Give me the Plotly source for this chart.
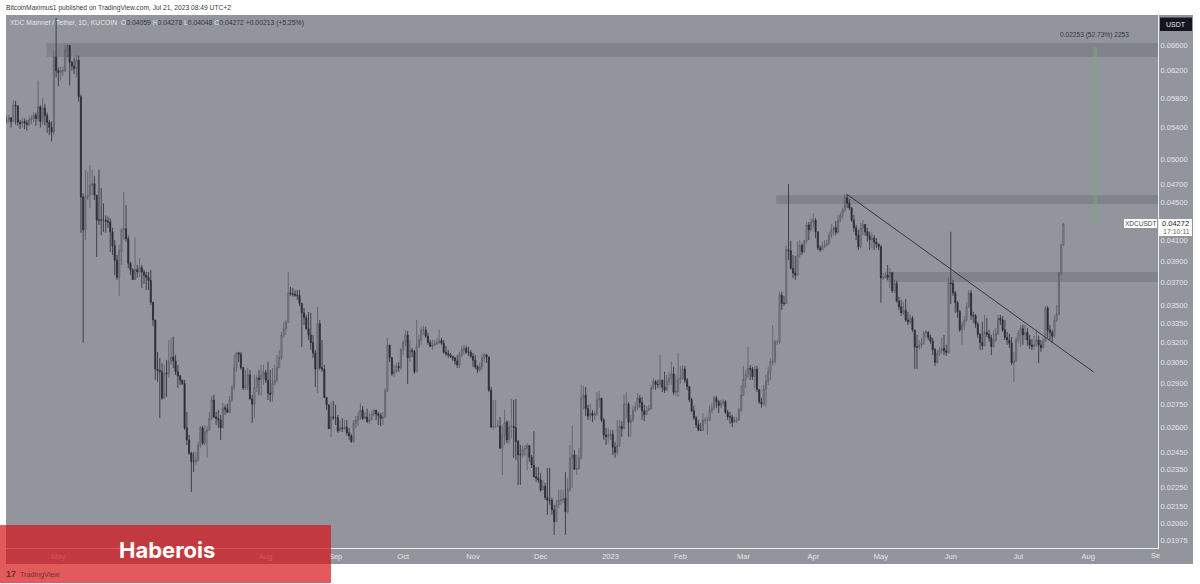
import pandas as pd
import plotly.graph_objects as go

# Daily OHLC, in units of 0.00001 USDT
close_pts = [
5500,5530,5480,5700,5690,5470,5450,5480,5460,5440,5500,5520,5560,5520,5680,5480,5660,5560,5470,5400,5340,
6410,6200,6170,6200,6200,6520,6590,6330,6270,6230,6360,5820,4560,4210,
4560,4580,4690,4710,4580,4310,4310,4310,4310,4300,4290,4190,4050,3910,3750,4000,4210,4220,4120,3880,3820,3730,3820,3800,3840,
3800,3770,3750,3720,3530,3380,3000,2990,2980,2795,2970,2965,3055,3090,3060,2980,2950,2920,2895,2600,
2525,2445,2395,2395,2405,2490,2600,2505,2575,2585,2660,2783,2670,2660,2650,2600,2730,2720,2700,2783,
2870,3010,3120,3110,3010,2865,2880,2958,2790,2755,2870,2935,2925,2955,2975,2920,2830,2820,2900,2920,
3010,3085,3260,3310,3360,3610,3600,3600,3590,3590,3520,3440,3400,3310,3260,3200,3120,3000,3350,3010,
3000,2800,2750,2595,2670,2665,2665,2580,2600,2595,2605,2570,2550,2515,2630,2650,2675,2715,2660,2670,
2640,2650,2690,2715,2690,2680,2660,2670,2845,3180,3085,2965,2985,3020,3010,3145,3200,3260,3085,3140,
3130,2980,3170,3220,3300,3300,3250,3200,3170,3180,3190,3200,3215,3195,3125,3115,3105,3095,3080,3060,
3030,3105,3145,3155,3125,3125,3095,3065,3015,2995,3020,3085,3105,3090,2850,2605,2610,2610,2610,2475,
2550,2635,2525,2605,2610,2600,2515,2435,2435,2465,2475,2490,2420,2375,2310,2300,2290,2235,2255,2195,
2180,2180,2130,2070,2155,2180,2180,2190,2120,2240,2415,2435,2350,2355,2415,2795,2815,2725,2675,2695,
2680,2690,2785,2795,2650,2555,2545,2555,2560,2480,2450,2490,2610,2595,2755,2755,2635,2650,2715,2735,
2795,2765,2710,2685,2715,2725,2865,2910,2890,2890,2920,2870,2850,2910,2935,2965,2835,2840,2925,2935,
3000,2920,2875,2785,2710,2665,2620,2585,2585,2650,2650,2650,2715,2730,2795,2770,2745,2760,2770,2700,
2670,2670,2635,2650,2650,2715,2815,2925,2960,3005,3000,2945,3000,2855,2770,2755,2855,2915,2980,3055,
3055,3205,3205,3590,3520,3520,4010,4000,3835,3790,3770,3960,4055,3990,4100,4260,4210,4290,4310,4190,
4030,4010,4040,4055,4075,4155,4210,4230,4185,4310,4360,4415,4550,4490,4440,4310,4230,4155,4040,4225,
4265,4190,4150,4110,4125,4085,4065,4040,3745,3750,3770,3750,3795,3630,3695,3540,3490,3440,3460,3380,
3365,3395,3300,3165,3165,3180,3195,3275,3280,3240,3210,3145,3050,3115,3140,3155,3135,3125,3700,3695,
3610,3525,3450,3300,3340,3380,3490,3610,3420,3415,3345,3265,3200,3175,3280,3265,3235,3170,3220,3270,
3395,3380,3300,3240,3220,3195,3045,3060,3220,3275,3310,3260,3280,3220,3180,3170,3185,3220,3180,3160,
3210,3480,3300,3280,3250,3380,3430,3790,4059,4272]

high_pts = [
5560,5570,5530,5770,5760,5700,5500,5530,5520,5500,5550,5560,5600,5600,6050,5700,5800,5720,5600,5500,5480,
6500,7050,6250,6260,6260,6600,6620,6600,6350,6400,6440,6430,5850,4600,
4870,4850,4930,4870,4800,4580,4870,4660,4490,4360,4350,4330,4230,4107,3960,4055,4230,4615,4470,4150,3895,3835,4135,3865,3930,
3865,3818,3800,3800,3818,3505,3381,3128,3082,3045,3030,3067,3220,3236,3244,3105,3030,2958,2922,2922,
2703,2556,2452,2452,2452,2513,2612,2612,2618,2612,2703,2810,2817,2703,2716,2683,2763,2750,2757,2810,
2886,3105,3128,3128,3128,3016,2994,3008,2994,2817,2958,2958,2994,3030,3030,2994,3052,2994,3008,3030,
3105,3143,3284,3365,3381,3800,3664,3655,3637,3637,3637,3525,3481,3422,3447,3439,3260,3143,3490,3381,
3220,3030,2803,2750,2770,2776,2750,2683,2650,2663,2650,2650,2600,2562,2650,2676,2703,2763,2743,2703,
2723,2696,2710,2723,2710,2703,2696,2703,2865,3236,3158,3082,3030,3045,3052,3158,3220,3300,3292,3220,
3158,3143,3381,3260,3325,3333,3325,3276,3220,3220,3220,3236,3300,3236,3220,3174,3143,3120,3097,3090,
3105,3128,3174,3182,3174,3166,3143,3120,3105,3030,3052,3113,3120,3113,3067,2872,2783,2783,2650,2670,
2618,2716,2650,2643,2790,2783,2790,2525,2494,2488,2494,2506,2494,2434,2580,2364,2364,2330,2291,2274,
2358,2358,2193,2156,2182,2236,2236,2236,2336,2302,2494,2612,2464,2434,2476,2886,2880,2872,2750,2757,
2716,2710,2837,2844,2783,2663,2600,2600,2587,2587,2513,2650,2650,2643,2817,2837,2770,2683,2743,2770,
2830,2817,2803,2750,2743,2750,2886,2936,2922,2922,3105,2922,2980,2958,2980,3052,3016,2958,3120,3023,
3030,3023,2936,2880,2797,2743,2676,2650,2631,2696,2670,2670,2750,2763,2810,2810,2783,2783,2790,2783,
2716,2703,2683,2670,2670,2730,2886,3023,2994,3166,3030,3016,3023,3023,2851,2797,2886,2958,3016,3082,
3340,3220,3220,3620,3620,3585,4055,4705,4097,3960,3950,4090,4107,4072,4107,4290,4290,4330,4385,4330,
4190,4055,4090,4107,4107,4190,4270,4250,4300,4365,4395,4440,4595,4582,4537,4450,4365,4260,4208,4280,
4311,4270,4230,4190,4180,4155,4125,4072,4055,3790,3800,3865,3835,3800,3727,3718,3577,3550,3533,3558,
3447,3430,3414,3300,3260,3220,3236,3292,3300,3292,3260,3236,3158,3143,3166,3236,3260,3182,3745,4190,
3727,3628,3542,3464,3365,3414,3525,3637,3637,3447,3430,3365,3276,3365,3422,3397,3300,3260,3300,3316,
3422,3422,3414,3381,3284,3268,3244,3128,3244,3300,3340,3340,3340,3316,3260,3228,3252,3300,3252,3220,
3236,3498,3498,3340,3300,3414,3507,3800,4072,4278]

low_pts = [
5450,5460,5400,5470,5440,5420,5380,5400,5380,5360,5420,5440,5470,5420,5480,5400,5430,5430,5330,5300,5220,
5300,6100,5970,6050,6120,6180,6400,5980,6200,6150,6100,5750,4180,3200,
4107,4526,4440,4580,4526,3940,4260,4155,4190,4180,4230,3990,3960,3770,3727,3585,3865,4107,4090,3835,3770,3727,3727,3745,3755,
3655,3690,3637,3637,3505,3330,2922,2908,2663,2783,2795,2803,2936,3030,3008,2958,2865,2886,2886,2587,
2494,2434,2225,2336,2376,2393,2476,2494,2494,2417,2587,2650,2663,2618,2600,2525,2600,2683,2696,2696,
2770,2851,2980,3052,2994,2851,2851,2851,2783,2631,2663,2837,2817,2810,2886,2900,2783,2770,2770,2886,
2908,3008,3067,3236,3260,3365,3585,3577,3577,3550,3498,3166,3340,3300,3220,3143,3082,2872,2830,2994,
2980,2795,2716,2600,2544,2650,2618,2568,2580,2574,2587,2550,2525,2506,2506,2600,2612,2650,2650,2656,
2631,2625,2650,2676,2650,2618,2612,2618,2663,2837,3052,2950,2943,2972,2980,2994,3105,3174,2893,3052,
3090,2965,2980,3158,3182,3260,3236,3182,3166,3143,3174,3182,3190,3182,3113,3097,3082,3082,3060,3030,
3008,3008,3090,3105,3113,3097,3082,3016,3001,2972,2980,2994,3052,3045,2837,2600,2587,2600,2612,2470,
2318,2494,2506,2500,2537,2417,2405,2263,2263,2417,2429,2347,2393,2358,2302,2280,2274,2225,2236,2182,
2104,2156,2104,2004,2068,2140,2156,2166,2004,2109,2225,2247,2347,2318,2347,2405,2716,2676,2650,2650,
2637,2650,2676,2730,2637,2525,2494,2506,2525,2434,2417,2434,2482,2544,2606,2663,2544,2544,2637,2703,
2716,2730,2650,2643,2690,2710,2716,2851,2851,2865,2865,2837,2830,2872,2886,2886,2817,2810,2803,2893,
2922,2900,2851,2770,2703,2650,2600,2580,2580,2580,2625,2556,2643,2696,2716,2730,2696,2730,2743,2690,
2650,2625,2606,2631,2631,2643,2703,2810,2865,2936,2922,2922,2865,2837,2757,2730,2743,2736,2886,2922,
3030,3038,3182,3190,3464,3498,3515,3913,3818,3745,3727,3763,3930,3960,3980,4072,4107,4190,4230,4125,
4008,3990,4008,4025,4045,4055,4125,4150,4155,4170,4290,4330,4395,4440,4417,4290,4190,4107,4008,4025,
4155,4150,4090,4008,4025,4008,4025,4008,3525,3727,3736,3727,3655,3610,3610,3525,3464,3414,3422,3365,
3340,3348,3284,3001,3001,3143,3158,3182,3236,3220,3190,3105,3023,3038,3097,3113,3105,3097,3113,3515,
3585,3439,3397,3284,3182,3300,3365,3481,3381,3357,3316,3236,3143,3143,3174,3244,3205,3105,3158,3205,
3260,3340,3284,3220,3182,3158,3030,2908,3052,3197,3166,3182,3220,3174,3150,3143,3143,3166,3045,3128,
3158,3205,3236,3220,3197,3236,3365,3414,3763,4048]

first_open_pt = 5470
month_labels = ["May","Aug","Sep","Oct","Nov","Dec","2023","Feb","Mar","Apr","May","Jun","Jul","Aug"]
month_dates = ["2022-05-01","2022-08-01","2022-09-01","2022-10-01","2022-11-01","2022-12-01",
               "2023-01-01","2023-02-01","2023-03-01","2023-04-01","2023-05-01","2023-06-01","2023-07-01","2023-08-01"]
price_ticks = [0.066,0.062,0.058,0.054,0.05,0.047,0.045,0.041,0.039,0.037,0.035,0.0335,0.032,0.0305,
               0.029,0.0275,0.026,0.0245,0.0235,0.0225,0.0215,0.0206,0.01975]

dates = pd.date_range(end="2023-07-21", periods=len(close_pts), freq="D")
closes = [v/1e5 for v in close_pts]
opens = [first_open_pt/1e5] + closes[:-1]
highs = [max(h/1e5, o, c) for h, o, c in zip(high_pts, opens, closes)]
lows = [min(l/1e5, o, c) for l, o, c in zip(low_pts, opens, closes)]

BG = "#92959c"
ZONE = "#80838a"
LX, RX, TY, BY = 6, 1158, 15, 548
def px(x): return (x-LX)/(RX-LX)
def py(y): return (BY-y)/(BY-TY)

fig = go.Figure(go.Candlestick(
    x=dates, open=opens, high=highs, low=lows, close=closes, whiskerwidth=0,
    increasing=dict(line=dict(color="#5a5d66", width=0.8), fillcolor=BG),
    decreasing=dict(line=dict(color="#2a2c33", width=0.8), fillcolor="#2a2c33"),
    hoverinfo="skip", showlegend=False))

X_END = "2023-08-31 23:00"
shapes = []
def paper_rect(x0, y0, x1, y1, color, layer="below"):
    shapes.append(dict(type="rect", xref="paper", yref="paper", x0=px(x0), x1=px(x1), y0=py(y0), y1=py(y1),
                       fillcolor=color, line=dict(width=0), layer=layer))
paper_rect(RX, TY, 1193, 564, BG)
paper_rect(LX, BY, RX, 564, BG)
for start, top, bottom in [("2022-04-25 17:00",0.06632,0.0641),("2023-03-15 14:00",0.04582,0.04482),("2023-05-03 10:00",0.03799,0.03708)]:
    shapes.append(dict(type="rect", xref="x", yref="y", x0=start, x1=X_END, y0=bottom, y1=top,
                       fillcolor=ZONE, line=dict(width=0), layer="below"))
shapes.append(dict(type="rect", xref="x", yref="y", x0="2023-08-03 08:00", x1="2023-08-05 00:00", y0=0.04272, y1=0.0657,
                   fillcolor="rgba(120,168,128,0.55)", line=dict(width=0), layer="below"))
shapes.append(dict(type="line", xref="x", yref="y", x0="2023-04-15 17:00", x1="2023-08-03 08:00", y0=0.04594, y1=0.02979,
                   line=dict(color="#35383e", width=1), layer="above"))
paper_rect(1124, 219, 1157, 228, "white", "above")
paper_rect(1159, 219, 1192, 236, "white", "above")
paper_rect(1160, 17.5, 1192, 31, "#14161f", "above")
paper_rect(0, 525, 331, 583, "rgba(215,20,24,0.7)", "above")

def note(x, y, text, size=7.5, color="#e3e5e9", anchor="left", family="Liberation Sans", bold=False):
    return dict(xref="paper", yref="paper", x=px(x), y=py(y), text=f"<b>{text}</b>" if bold else text, showarrow=False,
                xanchor=anchor, yanchor="middle", font=dict(size=size, color=color, family=family),
                borderpad=0, borderwidth=0)

DK = "#33363d"
anns = [
    note(6, 8, "BitcoinMaximus1 published on TradingView.com, Jul 21, 2023 08:49 UTC+2", 6.7, "#3a3a3a"),
    note(10, 23, f"XDC Mainnet / Tether, 1D, KUCOIN  "
         f"O<span style='color:{DK}'>0.04059</span> H<span style='color:{DK}'>0.04278</span> "
         f"L<span style='color:{DK}'>0.04048</span> C<span style='color:{DK}'>0.04272</span> "
         f"<span style='color:{DK}'>+0.00213 (+5.25%)</span>", 6.8, "#e2e4e8"),
    note(1094, 35, "0.02253 (52.73%) 2253", 6.6, DK, "center"),
    note(1176, 24.5, "USDT", 7, "#e8e8e8", "center"),
    note(1140.5, 223.5, "XDCUSDT", 6.5, "#44474e", "center"),
    note(1175.5, 223.5, "0.04272", 7.5, "#222222", "center"),
    note(1176, 231, "17:10:11", 7, "#666666", "center"),
    note(1151, 555.5, "Se", 7.5, "#e3e5e9"),
    note(166.5, 550, "Haberois", 22, "white", "center", "Inter", True),
    note(6, 574, "17", 9, "#702a2c", "left", "Liberation Sans", True),
    note(19.5, 574, "TradingView", 7.2, "#752e30"),
]

fig.update_layout(
    width=1200, height=584, autosize=False,
    margin=dict(l=LX, r=1200-RX, t=TY, b=584-BY, pad=0),
    paper_bgcolor="white", plot_bgcolor=BG, showlegend=False, shapes=shapes, annotations=anns,
    font=dict(family="Liberation Sans", size=7.5, color="#e3e5e9"),
    xaxis=dict(type="date", range=["2022-04-07 18:00", X_END], rangeslider=dict(visible=False), showgrid=False,
               zeroline=False, tickmode="array", tickvals=month_dates, ticktext=month_labels, ticks="",
               ticklabelstandoff=1,
               showline=True, linecolor="#eceef1", linewidth=1, tickfont=dict(size=7.5, color="#e3e5e9")),
    yaxis=dict(type="log", side="right", range=[-1.71198, -1.14874], autorange=False, showgrid=False, zeroline=False,
               tickmode="array", tickvals=price_ticks, ticktext=[f"{v:.5f}" for v in price_ticks], ticks="",
               showline=True, linecolor="#eceef1", linewidth=1, tickfont=dict(size=7.5, color="#e3e5e9")),
)
fig.write_html("out.html", config={"displayModeBar": False},
               post_script="document.body.style.margin='0';document.documentElement.style.overflow='hidden';")
